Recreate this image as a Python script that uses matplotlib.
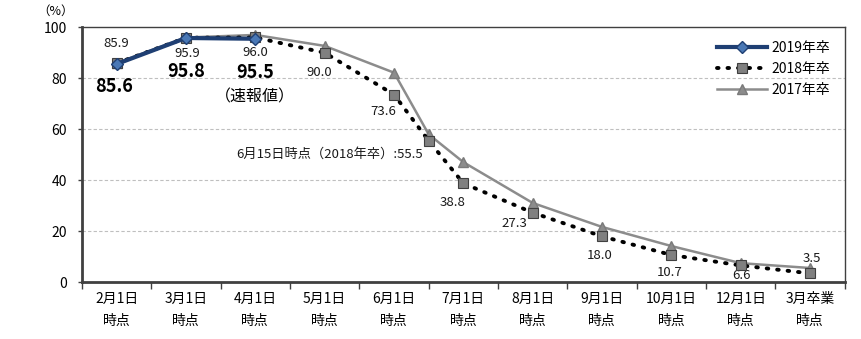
import matplotlib
matplotlib.use("Agg")
import matplotlib.pyplot as plt
import numpy as np

plt.rcParams['font.family'] = ['Noto Sans CJK JP', 'DejaVu Sans']

categories = ["2月1日\n時点", "3月1日\n時点", "4月1日\n時点", "5月1日\n時点", "6月1日\n時点",
              "7月1日\n時点", "8月1日\n時点", "9月1日\n時点", "10月1日\n時点", "12月1日\n時点", "3月卒業\n時点"]

# x positions: category index; June 15 sits between 6月1日 and 7月1日
pos_full = [0, 1, 2, 3, 4, 4.5, 5, 6, 7, 8, 9, 10]

s2019 = [85.6, 95.8, 95.5]
s2018 = [85.9, 95.9, 96.0, 90.0, 73.6, 55.5, 38.8, 27.3, 18.0, 10.7, 6.6, 3.5]
s2017 = [86.0, 96.0, 97.0, 92.7, 82.2, 58.0, 47.1, 31.1, 21.7, 14.2, 7.5, 5.6]

labels2018 = ["85.9", "95.9", "96.0", "90.0", "73.6", None, "38.8", "27.3", "18.0", "10.7", "6.6", "3.5"]
label2018_off = [(0, 14), (1, -11), (0, -11), (-4, -14), (-8, -12), None, (-8, -13.5),
                 (-13, -8), (-2, -13.5), (-1, -12.5), (0.5, -7.5), (1, 11)]

fig = plt.figure(figsize=(8.61, 3.39), dpi=100)
ax = fig.add_axes([0.0952, 0.1673, 0.886, 0.7522])

ax.plot(pos_full, s2017, color='#8C8C8C', lw=1.8, marker='^', ms=7,
        mfc='#8C8C8C', mec='#7A7A7A', label='2017年卒', zorder=3)
ax.plot(pos_full, s2018, color='black', lw=2.8, linestyle=(0, (0.4, 2.3)),
        dash_capstyle='round', marker='s', ms=6.5, mfc='#808080', mec='#404040',
        mew=0.8, label='2018年卒', zorder=4)
ax.plot(pos_full[:3], s2019, color='#1F3F73', lw=3, marker='D', ms=6.5,
        mfc='#4A78B5', mec='#1F3F73', label='2019年卒', zorder=5)

ax.set_xlim(-0.5, 10.5)
ax.set_ylim(0, 100)
ax.set_yticks([0, 20, 40, 60, 80, 100])
ax.set_xticks(range(len(categories)))
ax.set_xticklabels(categories, fontsize=10, linespacing=1.75)
ax.set_xticks(np.arange(-0.5, 10.6, 1), minor=True)
ax.tick_params(axis='x', which='major', length=0, pad=7)
ax.tick_params(axis='x', which='minor', length=5, width=1, color='#404040', direction='out')
ax.tick_params(axis='y', length=3, width=1, color='#404040', labelsize=10, pad=8)
for y in [20, 40, 60, 80]:
    ax.axhline(y, color='#BFBFBF', lw=0.8, ls=(0, (3, 2)), zorder=1)

for side in ['left', 'bottom']:
    ax.spines[side].set_linewidth(2)
    ax.spines[side].set_color('#404040')
for side in ['top', 'right']:
    ax.spines[side].set_linewidth(1)
    ax.spines[side].set_color('#404040')

for x, y, t, off in zip(pos_full, s2018, labels2018, label2018_off):
    if t is None:
        continue
    ax.annotate(t, (x, y), xytext=off, textcoords='offset points',
                ha='center', va='center', fontsize=9.5, color='#1a1a1a')

ax.annotate("6月15日時点（2018年卒）:55.5", (pos_full[5], s2018[5]), xytext=(-4, -9.5),
            textcoords='offset points', ha='right', va='center', fontsize=9.5, color='#1a1a1a')

bold_off = [(-1.5, -16.5), (0, -24), (0, -24)]
for x, y, off in zip(pos_full[:3], s2019, bold_off):
    ax.annotate(f"{y:.1f}", (x, y), xytext=off, textcoords='offset points',
                ha='center', va='center', fontsize=13, fontweight='bold', color='black')
ax.annotate("（速報値）", (2, s2019[2]), xytext=(0, -42), textcoords='offset points',
            ha='center', va='center', fontsize=11.5, color='black')

fig.text(0.065, 0.968, "（%）", fontsize=9, ha='center', va='center')

handles, labels = ax.get_legend_handles_labels()
leg = ax.legend(handles[::-1], labels[::-1], loc='upper right', bbox_to_anchor=(0.997, 0.995),
                frameon=False, fontsize=10, handlelength=3.6, labelspacing=0.5,
                handletextpad=0.3)

fig.savefig("out.png", dpi=100)
